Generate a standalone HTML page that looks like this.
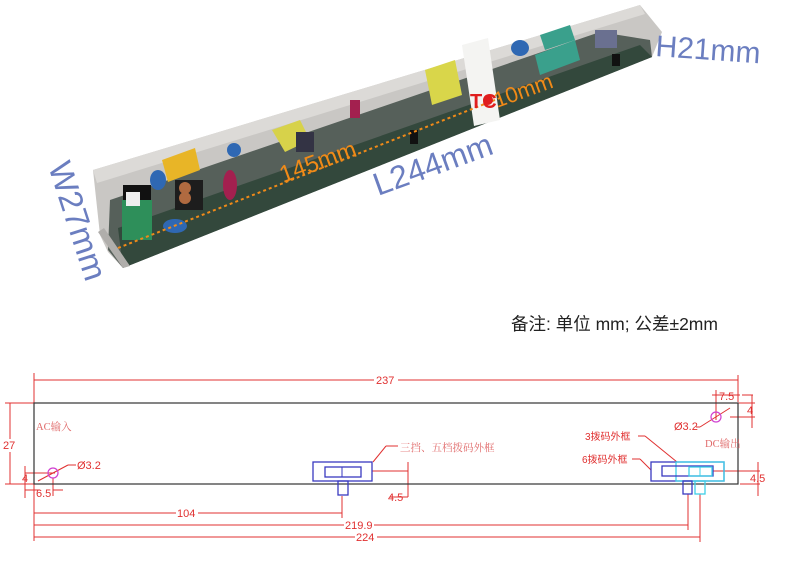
<!DOCTYPE html>
<html><head><meta charset="utf-8"><style>
html,body{margin:0;padding:0;background:#fff;}
svg{display:block;}
</style></head><body>
<svg width="785" height="566" viewBox="0 0 785 566" xmlns="http://www.w3.org/2000/svg" font-family="Liberation Sans, Noto Sans CJK SC, sans-serif">
<!-- photo tube -->
<polygon points="93,170 640,5 662,32 652,57 123,268 108,252 100,235" fill="#c9c7c4"/>
<polygon points="110,200 600,32 650,40 652,57 123,268 108,250" fill="#56605a"/>
<polygon points="118,228 640,45 652,57 123,268" fill="#33483c"/>
<polygon points="93,170 640,5 645,14 97,183" fill="#dcdad7"/>
<polygon points="98,232 123,268 130,266 104,228" fill="#b0aeab"/>
<!-- components -->
<rect x="123" y="185" width="28" height="50" fill="#111"/>
<rect x="122" y="200" width="30" height="40" fill="#2e8f5a"/>
<rect x="126" y="192" width="14" height="14" fill="#eee"/>
<ellipse cx="158" cy="180" rx="8" ry="10" fill="#2f68b3"/>
<ellipse cx="175" cy="226" rx="12" ry="7" fill="#2f68b3"/>
<polygon points="162,160 195,148 200,170 168,182" fill="#e8b527"/>
<rect x="175" y="180" width="28" height="30" fill="#1d1d1d"/>
<circle cx="185" cy="188" r="6" fill="#b06a40"/>
<circle cx="185" cy="198" r="6" fill="#b06a40"/>
<ellipse cx="230" cy="185" rx="7" ry="15" fill="#a3204f"/>
<ellipse cx="234" cy="150" rx="7" ry="7" fill="#2f68b3"/>
<polygon points="272,130 300,120 310,140 285,152" fill="#d7d24a"/>
<rect x="296" y="132" width="18" height="20" fill="#334" />
<rect x="350" y="100" width="10" height="18" fill="#a3204f"/>
<polygon points="425,70 455,60 462,95 432,105" fill="#d9d64a"/>
<polygon points="462,45 488,38 500,120 474,126" fill="#f4f4f2"/>
<ellipse cx="520" cy="48" rx="9" ry="8" fill="#2f68b3"/>
<polygon points="535,55 575,40 580,60 540,75" fill="#3aa08c"/>
<polygon points="540,35 570,25 575,40 545,50" fill="#3aa08c"/>
<rect x="595" y="30" width="22" height="18" fill="#6a7090"/>
<rect x="612" y="54" width="8" height="12" fill="#111"/>
<rect x="410" y="130" width="8" height="14" fill="#111"/>
<line x1="118" y1="248" x2="500" y2="98" stroke="#f08a18" stroke-width="2" stroke-dasharray="3,3"/>
<text x="470" y="108" fill="#e01e1e" font-size="20" font-weight="bold">TC</text>
<circle cx="488" cy="100" r="5" fill="#e01e1e"/>
<text transform="translate(497,108) rotate(-20)" fill="#f08a18" font-size="22">10mm</text>
<text transform="translate(283,183) rotate(-20)" fill="#f08a18" font-size="24">145mm</text>
<text transform="translate(378,196) rotate(-20)" fill="#6b7ec0" font-size="32">L244mm</text>
<text transform="translate(655,56) rotate(4)" fill="#6b7ec0" font-size="30">H21mm</text>
<text transform="translate(48,166) rotate(72)" fill="#6b7ec0" font-size="33">W27mm</text>
<text x="511" y="330" font-size="17.5" fill="#222">备注: 单位 mm; 公差±2mm</text>

<!-- drawing -->
<g stroke="#e03030" stroke-width="1" fill="none">
<line x1="34" y1="373" x2="34" y2="541"/>
<line x1="738" y1="375" x2="738" y2="402"/>
<line x1="34" y1="380" x2="738" y2="380"/>
<line x1="5" y1="403" x2="34" y2="403"/>
<line x1="5" y1="484" x2="34" y2="484"/>
<line x1="10" y1="403" x2="10" y2="484"/>
<line x1="25" y1="473" x2="55" y2="473"/>
<line x1="25" y1="466" x2="25" y2="498"/>
<line x1="25" y1="490" x2="40" y2="490"/>
<line x1="53" y1="478" x2="53" y2="496"/>
<line x1="53" y1="490" x2="63" y2="490"/>
<line x1="38" y1="481" x2="68" y2="465"/><line x1="68" y1="465" x2="76" y2="465"/>
<line x1="34" y1="513" x2="342" y2="513"/>
<line x1="342" y1="496" x2="342" y2="518"/>
<line x1="34" y1="525" x2="688" y2="525"/>
<line x1="688" y1="494" x2="688" y2="530"/>
<line x1="34" y1="537" x2="700" y2="537"/>
<line x1="700" y1="494" x2="700" y2="542"/>
<line x1="373" y1="462" x2="386" y2="446"/><line x1="386" y1="446" x2="398" y2="446"/>
<line x1="372" y1="471" x2="408" y2="471"/>
<line x1="408" y1="462" x2="408" y2="497"/>
<line x1="390" y1="497" x2="408" y2="497"/>
<line x1="712" y1="395" x2="740" y2="395"/>
<line x1="716" y1="390" x2="716" y2="420"/>
<line x1="742" y1="395" x2="753" y2="395"/>
<line x1="738" y1="403" x2="755" y2="403"/>
<line x1="730" y1="417" x2="755" y2="417"/>
<line x1="752" y1="395" x2="752" y2="428"/>
<line x1="730" y1="408" x2="700" y2="427"/><line x1="700" y1="427" x2="696" y2="427"/>
<line x1="638" y1="436" x2="645" y2="436"/><line x1="645" y1="436" x2="677" y2="462"/>
<line x1="632" y1="459" x2="640" y2="459"/><line x1="640" y1="459" x2="651" y2="470"/>
<line x1="713" y1="471" x2="760" y2="471"/>
<line x1="740" y1="484" x2="760" y2="484"/>
<line x1="758" y1="462" x2="758" y2="496"/>
</g>
<rect x="34" y="403" width="704" height="81" fill="none" stroke="#333" stroke-width="1.2"/>
<g fill="none">
<rect x="313" y="462" width="59" height="19" stroke="#3a3ac0" stroke-width="1.3"/>
<rect x="325" y="467" width="36" height="10" stroke="#3a3ac0" stroke-width="1.3"/>
<line x1="342" y1="467" x2="342" y2="477" stroke="#3a3ac0"/>
<rect x="338" y="481" width="10" height="14" stroke="#3a3ac0" stroke-width="1.3"/>
<rect x="651" y="462" width="73" height="19" stroke="#3a3ac0" stroke-width="1.3"/>
<rect x="676" y="462" width="48" height="19" stroke="#3fd0e8" stroke-width="1.3"/>
<rect x="662" y="466" width="51" height="10" stroke="#3a3ac0" stroke-width="1.3"/>
<rect x="689" y="467" width="23" height="9" stroke="#3fd0e8" stroke-width="1.3"/>
<line x1="700" y1="467" x2="700" y2="476" stroke="#3fd0e8"/>
<rect x="683" y="481" width="9" height="13" stroke="#3a3ac0" stroke-width="1.3"/>
<rect x="695" y="481" width="10" height="13" stroke="#3fd0e8" stroke-width="1.3"/>
<circle cx="53" cy="473" r="5" stroke="#d040d0" stroke-width="1.2"/>
<circle cx="716" cy="417" r="5" stroke="#d040d0" stroke-width="1.2"/>
</g>
<g fill="#e03030" font-size="11">
<text x="22" y="482">4</text>
<text x="36" y="497">6.5</text>
<text x="77" y="469">Ø3.2</text>
<text x="388" y="501">4.5</text>
<text x="719" y="400">7.5</text>
<text x="747" y="414">4</text>
<text x="674" y="430">Ø3.2</text>
<text x="750" y="482">4.5</text>
<text x="585" y="440" font-size="10">3拨码外框</text>
<text x="582" y="463" font-size="10">6拨码外框</text>
<text x="400" y="451" font-size="10.5" fill="#e06a6a" font-family="Liberation Serif, Noto Serif CJK SC, serif">三挡、五档拨码外框</text>
<text x="705" y="447" font-size="10.5" fill="#e06a6a" font-family="Liberation Serif, Noto Serif CJK SC, serif">DC输出</text>
<text x="36" y="430" font-size="10.5" fill="#e06a6a" font-family="Liberation Serif, Noto Serif CJK SC, serif">AC输入</text>
</g>
<g font-size="11" fill="#e03030">
<rect x="374" y="374" width="24" height="12" fill="#fff"/>
<text x="376" y="384">237</text>
<rect x="176" y="507" width="22" height="12" fill="#fff"/>
<text x="177" y="517">104</text>
<rect x="344" y="519" width="30" height="12" fill="#fff"/>
<text x="345" y="529">219.9</text>
<rect x="355" y="531" width="22" height="12" fill="#fff"/>
<text x="356" y="541">224</text>
<rect x="2" y="439" width="16" height="13" fill="#fff"/>
<text x="3" y="449">27</text>
</g>
</svg>
</body></html>
